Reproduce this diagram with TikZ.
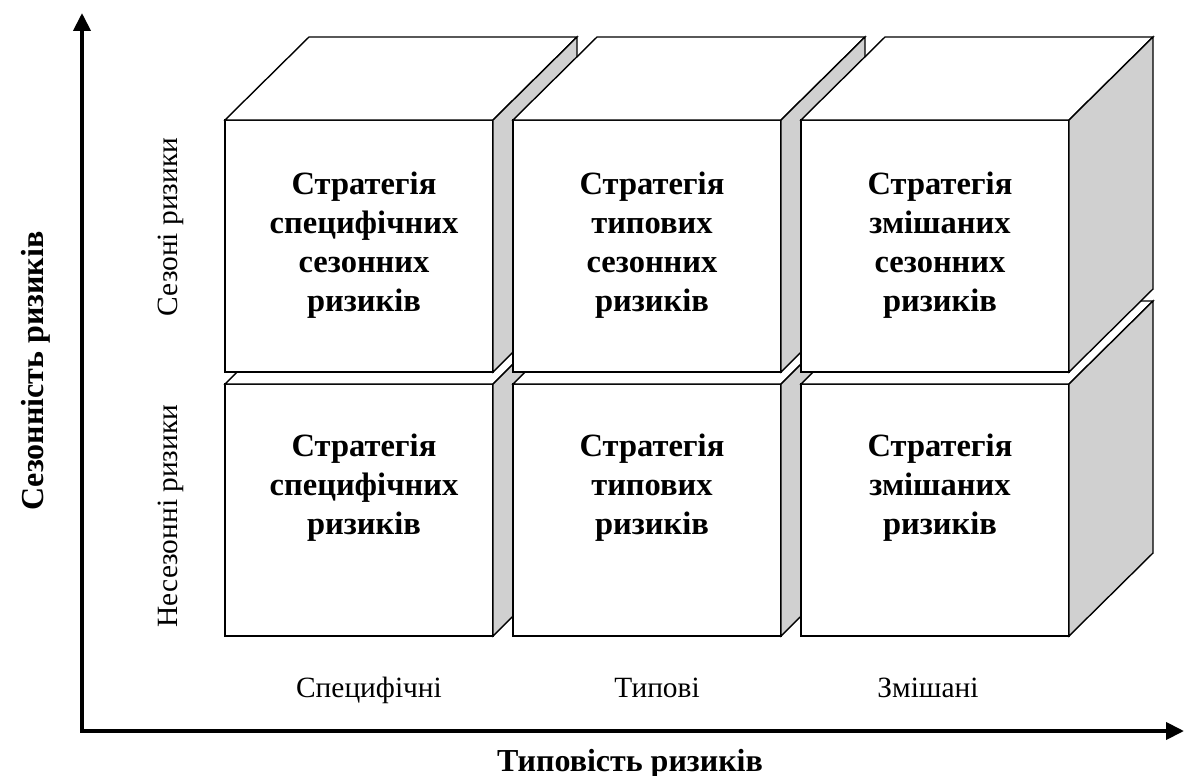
\documentclass[tikz,border=0pt]{standalone}
\usepackage{fontspec}
\setmainfont{Liberation Serif}
\usetikzlibrary{arrows.meta}
\definecolor{sidegray}{RGB}{208,208,208}
\tikzset{
  face/.style={draw=black, line width=1.4pt, line join=miter, fill=white},
  sideface/.style={draw=black, line width=1.4pt, line join=miter, fill=sidegray},
  axis/.style={line width=4pt, line join=miter, {Triangle[length=18pt,width=17pt]}-{Triangle[length=18pt,width=17pt]}},
  celltext/.style={anchor=north, align=center, inner sep=0pt, font=\fontsize{32.5}{39}\selectfont\bfseries},
  ticklabel/.style={anchor=base, inner sep=0pt, font=\fontsize{29.4}{34}\selectfont},
  sidelabel/.style={anchor=base, inner sep=0pt, rotate=90, font=\fontsize{29.4}{34}\selectfont},
  axislabel/.style={anchor=base, inner sep=0pt, font=\fontsize{32}{38}\selectfont\bfseries},
}
% \mycube{x0}{y0}: front face top-left corner (pixels, y downward)
\newcommand{\mycube}[2]{%
  \path[face] (#1,#2) -- ++(268,0) -- ++(0,252) -- ++(-268,0) -- cycle;
  \path[face] (#1,#2) -- ++(84,-83) -- ++(268,0) -- ++(-84,83) -- cycle;
  \path[sideface] (#1+268,#2) -- ++(84,-83) -- ++(0,252) -- ++(-84,83) -- cycle;
}
\begin{document}
\begin{tikzpicture}[x=1pt,y=-1pt]
\useasboundingbox (0,0) rectangle (1184,776);
% lower row
\mycube{225}{384}
\mycube{513}{384}
\mycube{801}{384}
% upper row
\mycube{225}{120}
\mycube{513}{120}
\mycube{801}{120}
% cell texts
\node[celltext] (t11) at (364,172) {Стратегія\\специфічних\\сезонних\\ризиків};
\node[celltext] (t12) at (652,172) {Стратегія\\типових\\сезонних\\ризиків};
\node[celltext] (t13) at (940,172) {Стратегія\\змішаних\\сезонних\\ризиків};
\node[celltext] (t21) at (364,434) {Стратегія\\специфічних\\ризиків};
\node[celltext] (t22) at (652,434) {Стратегія\\типових\\ризиків};
\node[celltext] (t23) at (940,434) {Стратегія\\змішаних\\ризиків};
% axes
\coordinate (ytop) at (82,13);
\coordinate (origin) at (82,731);
\coordinate (xend) at (1184,731);
\draw[axis] (ytop) -- (origin) -- (xend);
% tick labels
\node[ticklabel] (lx1) at (369,697) {Специфічні};
\node[ticklabel] (lx2) at (657,697) {Типові};
\node[ticklabel] (lx3) at (928,697) {Змішані};
\node[sidelabel] (ly1) at (177,227) {Сезоні ризики};
\node[sidelabel] (ly2) at (177,516) {Несезонні ризики};
% axis titles
\node[axislabel] (ax) at (630,771) {Типовість ризиків};
\node[axislabel, rotate=90] (ay) at (43,371) {Сезонність ризиків};
\end{tikzpicture}
\end{document}
